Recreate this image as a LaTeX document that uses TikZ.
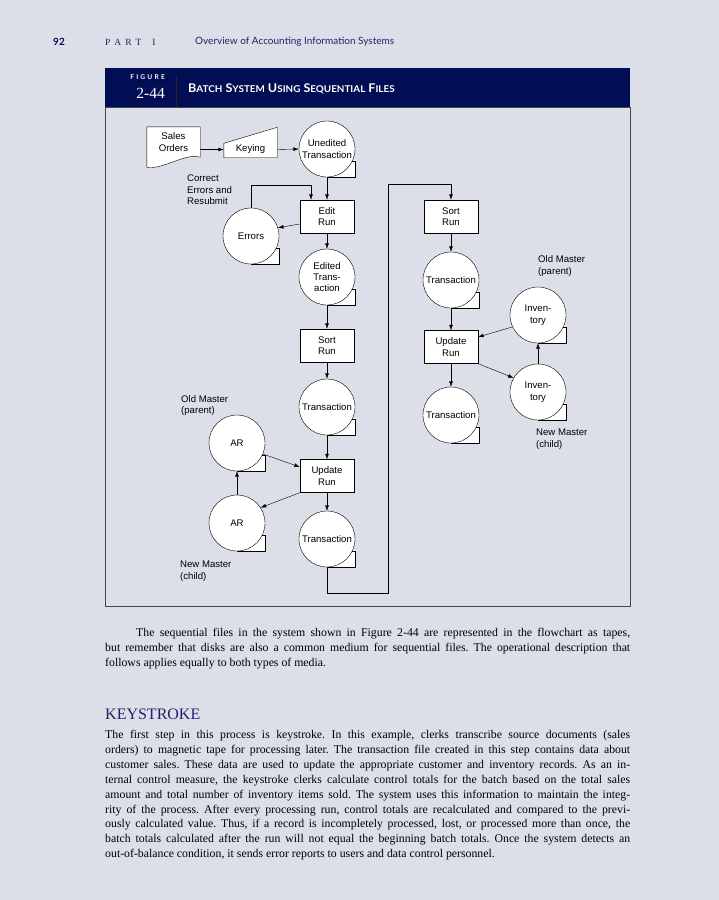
\documentclass[tikz,border=0pt]{standalone}
\usepackage{fontspec}
\usepackage{graphicx}
\setmainfont{Liberation Serif}
\newfontfamily\diagfont{Liberation Sans}
\newfontfamily\headfont{Lato}
\usetikzlibrary{arrows.meta, calc, positioning}
\definecolor{pagebg}{RGB}{220,223,232}
\definecolor{navy}{RGB}{2,14,84}
\definecolor{headnavy}{RGB}{28,36,108}
\definecolor{framegray}{RGB}{70,70,78}
\newcommand\diagtext{\diagfont\fontsize{9.6}{11.4}\selectfont}
\newcommand\smallcap[1]{{\fontsize{9.4}{11}\selectfont #1}}
\pgfdeclarelayer{background}
\pgfsetlayers{background,main}
\tikzset{
    run box/.style = {rectangle, draw, fill=white, minimum width=54pt, minimum height=33pt, inner sep=1pt, align=center, font=\diagtext},
    tape file/.style = {circle, draw, fill=white, minimum size=56pt, inner sep=0pt, align=center, font=\diagtext},
    flow/.style = {-{Latex[length=5.5pt,width=3.8pt]}},
    side note/.style = {anchor=west, align=left, font=\diagtext, inner sep=0pt},
    body text/.style = {anchor=north west, inner sep=0pt, text width=525pt, align=justify, font=\fontsize{11.8}{14.9}\selectfont\frenchspacing}
}

\begin{document}
\begin{tikzpicture}[x=1pt, y=-1pt, line width=0.7pt]
        \useasboundingbox (0,0) rectangle (719,900);
        \begin{pgfonlayer}{background}
            \fill[pagebg] (0,0) rectangle (719,900);
            \draw[framegray, line width=0.9pt] (105,107) rectangle (630,606);
            \fill[navy] (105,68) rectangle (630,107);
            \draw[black!85, line width=0.8pt] (176,75) -- (176,107);
        \end{pgfonlayer}

        % running head
        \node[anchor=west, inner sep=0pt, font=\headfont\bfseries\fontsize{10}{12}\selectfont, text=navy] (pagenum) at (53,42) {92};
        \node[anchor=west, inner sep=0pt, font=\fontsize{9.5}{12}\selectfont, text=headnavy] (partno) at (105,42) {P\hspace{4pt}A\hspace{4pt}R\hspace{4pt}T\hspace{11pt}I};
        \node[anchor=west, inner sep=0pt, font=\headfont\fontsize{10}{12}\selectfont, text=headnavy] (parttitle) at (195,42) {Overview of Accounting Information Systems};

        % figure title bar
        \node[anchor=east, inner sep=0pt, font=\headfont\bfseries\fontsize{6.6}{8}\selectfont, text=white] (figword) at (165,77) {F\,\,I\,\,G\,\,U\,\,R\,\,E};
        \node[anchor=east, inner sep=0pt, font=\fontsize{15.5}{18}\selectfont, text=white] (fignum) at (165,93) {2-44};
        \node[anchor=west, inner sep=0pt, font=\headfont\bfseries\fontsize{12}{14}\selectfont, text=white] (figtitle) at (188,89)
            {\scalebox{1.05}[1]{B\smallcap{ATCH} S\smallcap{YSTEM} U\smallcap{SING} S\smallcap{EQUENTIAL} F\smallcap{ILES}}};

        % keystroke and edit
        \node[inner sep=0pt, minimum width=53pt, minimum height=30pt, align=center, font=\diagtext] (orders) at (173.5,142) {Sales\\Orders};
        \node[inner sep=0pt, minimum width=53pt, minimum height=16pt, font=\diagtext] (keying) at (250.5,149.5) {Keying};
        \node[tape file] (unedited) at (327,149) {Unedited\\Transaction};
        \node[run box] (editrun) at (327,216.5) {Edit\\Run};
        \node[tape file] (errors) at (251,236) {Errors};
        \node[tape file] (edited) at (327,277) {Edited\\Trans-\\action};
        \node[side note] (correctnote) at (187,190) {Correct\\Errors and\\Resubmit};

        % accounts receivable update
        \node[run box] (sortA) at (327,345.5) {Sort\\Run};
        \node[tape file] (transA) at (327,407) {Transaction};
        \node[run box] (updateA) at (327,476) {Update\\Run};
        \node[tape file] (transB) at (327,539) {Transaction};
        \node[tape file] (arOld) at (237,443) {AR};
        \node[tape file] (arNew) at (237,523) {AR};
        \node[side note] (arOldnote) at (181,405.5) {Old Master\\(parent)};
        \node[side note] (arNewnote) at (180,571) {New Master\\(child)};

        % inventory update
        \node[run box] (sortB) at (451,216.5) {Sort\\Run};
        \node[tape file] (transC) at (451,280) {Transaction};
        \node[run box] (updateB) at (451,347) {Update\\Run};
        \node[tape file] (transD) at (451,415) {Transaction};
        \node[tape file] (invOld) at (538,315) {Inven-\\tory};
        \node[tape file] (invNew) at (538,392) {Inven-\\tory};
        \node[side note] (invOldnote) at (538,266) {Old Master\\(parent)};
        \node[side note] (invNewnote) at (536,439) {New Master\\(child)};

        \coordinate (retbot) at (388,593);
        \coordinate (rettop) at (388,184);

        % symbol outlines
        \begin{pgfonlayer}{background}
            \draw[fill=white] (orders.north west) -- (orders.north east) -- (orders.south east)
                .. controls +(-14,-5) and +(16,3) .. ($(orders.south west)+(0,10)$) -- cycle;
            \draw[fill=white] (keying.south west) -- (keying.south east) -- ($(keying.north east)+(0,-14)$)
                -- ($(keying.north west)+(0,2)$) -- cycle;
            \foreach \t in {unedited, errors, edited, transA, transB, arOld, arNew, transC, transD, invOld, invNew}
                \fill[white] (\t.center) -- ($(\t.center)+(0,28)$) -- ($(\t.center)+(28.5,28)$) -- ($(\t.center)+(28.5,11.8)$) -- cycle;
        \end{pgfonlayer}
        \foreach \t in {unedited, errors, edited, transA, transB, arOld, arNew, transC, transD, invOld, invNew}
            \draw ($(\t.center)+(0,28)$) -- ($(\t.center)+(28.5,28)$) -- ($(\t.center)+(28.5,11.8)$) -- ($(\t.center)+(25.4,11.8)$);

        % connectors
        \draw[flow] (orders.east |- keying.west) -- (keying.west);
        \draw[flow] (keying.east) -- (unedited.west);
        \draw[flow] (unedited.south) -- (editrun.north);
        \draw[flow] ([yshift=-7.5pt]editrun.west) -- (errors.17);
        \draw[flow] (errors.north) -- ++(0,-23) -| ([xshift=-16pt]editrun.north);
        \draw[flow] (editrun.south) -- (edited.north);
        \draw[flow] (edited.south) -- (sortA.north);
        \draw[flow] (sortA.south) -- (transA.north);
        \draw[flow] (transA.south) -- (updateA.north);
        \draw[flow] (arOld.-23) -- ([yshift=9pt]updateA.west);
        \draw[flow] (updateA.south west) -- (arNew.33);
        \draw[flow] (arNew.north) -- (arOld.south);
        \draw[flow] (updateA.south) -- (transB.north);
        \draw[flow] (transB.south) |- (retbot) -- (rettop) -| (sortB.north);
        \draw[flow] (sortB.south) -- (transC.north);
        \draw[flow] (transC.south) -- (updateB.north);
        \draw[flow] (invOld.205) -- ([yshift=10pt]updateB.east);
        \draw[flow] (updateB.south east) -- (invNew.150);
        \draw[flow] (invNew.north) -- (invOld.south);
        \draw[flow] (updateB.south) -- (transD.north);

        % text below the figure
        \node[body text] (introtext) at (105,628) {\hspace*{31pt}The sequential files in the system shown in Figure 2-44 are represented in the flowchart as tapes,\linebreak
            but remember that disks are also a common medium for sequential files. The operational description that\linebreak
            follows applies equally to both types of media.};
        \node[anchor=base west, inner sep=0pt, font=\fontsize{16}{18}\selectfont, text=headnavy] (keyhead) at (105,719.5) {KEYSTROKE};
        \node[body text] (keytext) at (105,730) {The first step in this process is keystroke. In this example, clerks transcribe source documents (sales\linebreak
            orders) to magnetic tape for processing later. The transaction file created in this step contains data about\linebreak
            customer sales. These data are used to update the appropriate customer and inventory records. As an in-\linebreak
            ternal control measure, the keystroke clerks calculate control totals for the batch based on the total sales\linebreak
            amount and total number of inventory items sold. The system uses this information to maintain the integ-\linebreak
            rity of the process. After every processing run, control totals are recalculated and compared to the previ-\linebreak
            ously calculated value. Thus, if a record is incompletely processed, lost, or processed more than once, the\linebreak
            batch totals calculated after the run will not equal the beginning batch totals. Once the system detects an\linebreak
            out-of-balance condition, it sends error reports to users and data control personnel.};
\end{tikzpicture}
\end{document}
